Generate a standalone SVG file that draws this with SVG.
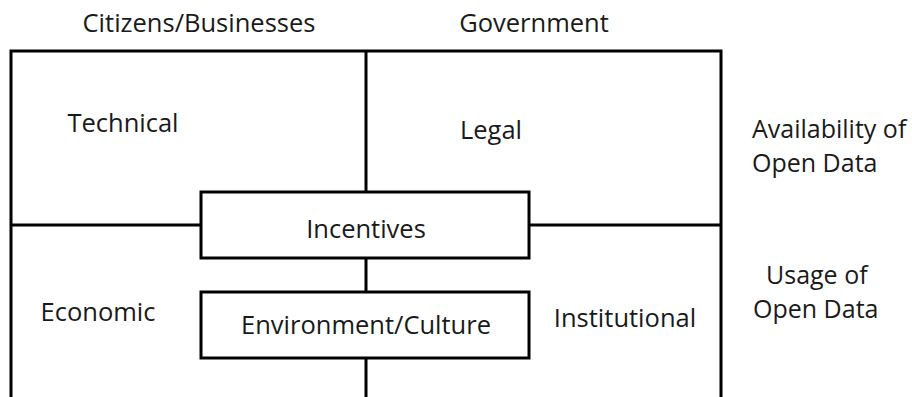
<svg xmlns="http://www.w3.org/2000/svg" width="912" height="397" viewBox="0 0 912 397">
<style>
.ln{fill:none;stroke:#000;stroke-width:3}
.bx{fill:#fff;stroke:#000;stroke-width:3}
text{font-family:"Open Sans","Noto Sans","Liberation Sans",sans-serif;font-size:25.5px;fill:#1a1a1a}
.m{text-anchor:middle}
.r{font-size:25px}
</style>
<rect width="912" height="397" fill="#fff"/>
<g id="connectors">
<path class="ln" d="M11,397V51H721V397"/>
<path class="ln" d="M366,51V192M366,258V292M366,358V397"/>
<path class="ln" d="M11,225H201M529,225H721"/>
</g>
<g id="header-citizens"><text class="m" x="199" y="32">Citizens/Businesses</text></g>
<g id="header-government"><text class="m" x="534" y="32">Government</text></g>
<g id="technical"><text class="m" x="123" y="132">Technical</text></g>
<g id="legal"><text class="m" x="491" y="139">Legal</text></g>
<g id="economic"><text class="m" x="98" y="321">Economic</text></g>
<g id="institutional"><text class="m" x="625" y="327">Institutional</text></g>
<g id="incentives"><rect class="bx" x="201" y="192" width="328" height="66"/><text class="m" x="366" y="238">Incentives</text></g>
<g id="environment"><rect class="bx" x="201" y="292" width="328" height="66"/><text class="m" x="366" y="334">Environment/Culture</text></g>
<g id="availability"><text class="r" x="752" y="138">Availability of</text><text class="r" x="752" y="172">Open Data</text></g>
<g id="usage"><text class="r" x="766" y="284">Usage of</text><text class="r" x="753" y="318">Open Data</text></g>
</svg>
